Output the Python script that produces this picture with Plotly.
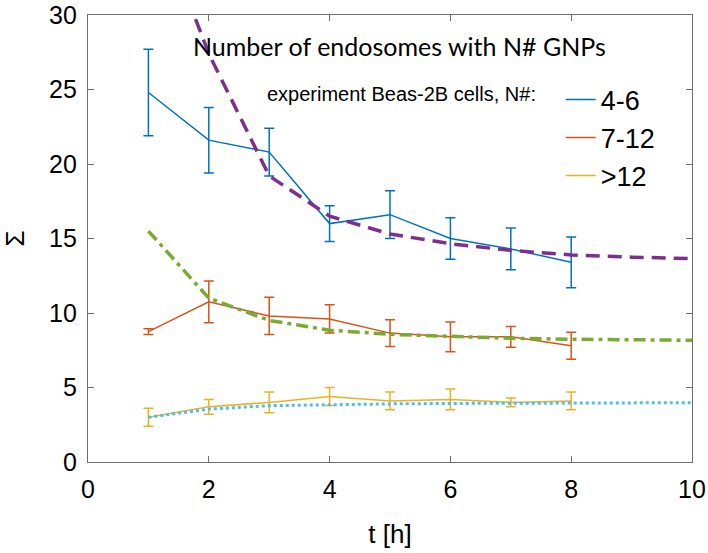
import plotly.graph_objects as go

# ---- data ----
t = [1, 2, 3, 4, 5, 6, 7, 8]
n46 = [24.8, 21.6, 20.8, 16.0, 16.6, 15.0, 14.3, 13.4]
n46_err = [2.9, 2.2, 1.6, 1.2, 1.6, 1.4, 1.4, 1.7]
n712 = [8.75, 10.75, 9.8, 9.6, 8.65, 8.4, 8.4, 7.8]
n712_err = [0.2, 1.4, 1.25, 0.95, 0.9, 1.0, 0.7, 0.9]
n12 = [3.0, 3.7, 4.0, 4.4, 4.1, 4.2, 4.0, 4.1]
n12_err = [0.6, 0.5, 0.7, 0.6, 0.6, 0.7, 0.3, 0.6]

t_model = [1, 2, 3, 4, 5, 6, 7, 8, 9, 10]
model46 = [38.0, 27.4, 19.2, 16.5, 15.3, 14.65, 14.2, 13.9, 13.75, 13.65]
model712 = [15.5, 11.0, 9.5, 8.85, 8.57, 8.42, 8.3, 8.24, 8.2, 8.17]
model12 = [3.0, 3.55, 3.78, 3.86, 3.9, 3.93, 3.95, 3.96, 3.97, 3.98]

labels = ["4-6", "7-12", ">12"]
colors = ["#0072BD", "#D95319", "#EDB120"]

fig = go.Figure()

for y, e, lab, c in zip([n46, n712, n12], [n46_err, n712_err, n12_err], labels, colors):
    fig.add_trace(go.Scatter(
        x=t, y=y, mode="lines", name=lab,
        line=dict(color=c, width=1.5),
        error_y=dict(type="data", array=e, visible=True, color=c, thickness=1.5, width=5),
    ))

fig.add_trace(go.Scatter(x=t_model, y=model46, mode="lines", showlegend=False,
                         line=dict(color="#7E2F8E", width=3.5, dash="14px,8px")))
fig.add_trace(go.Scatter(x=t_model, y=model712, mode="lines", showlegend=False,
                         line=dict(color="#77AC30", width=3.5, dash="12px,5px,4px,5px")))
fig.add_trace(go.Scatter(x=t_model, y=model12, mode="lines", showlegend=False,
                         line=dict(color="#4DBEEE", width=3, dash="dot")))

axis_common = dict(
    showline=True, linecolor="#6e6e6e", linewidth=1.2, mirror="ticks",
    ticks="inside", ticklen=6, tickcolor="#6e6e6e", tickwidth=1.2,
    showgrid=False, zeroline=False, automargin=False, ticklabeloverflow="allow",
    tickfont=dict(family="Liberation Sans, Arial", size=25, color="black"),
)

fig.update_layout(
    width=708, height=553,
    margin=dict(l=88, r=16, t=15, b=91),
    plot_bgcolor="white", paper_bgcolor="white",
    xaxis=dict(range=[0, 10], tickvals=[0, 2, 4, 6, 8, 10],
               title=dict(text="t [h]", font=dict(family="Liberation Sans, Arial", size=26, color="black"), standoff=22),
               ticklabelstandoff=5, **axis_common),
    yaxis=dict(range=[0, 30], tickvals=[0, 5, 10, 15, 20, 25, 30],
               title=dict(text="Σ", font=dict(family="Liberation Sans, Arial", size=26, color="black"), standoff=18),
               ticklabelstandoff=5, **axis_common),
    legend=dict(
        x=0.293, y=0.865, xanchor="left", yanchor="top",
        bgcolor="rgba(0,0,0,0)",
        font=dict(family="Liberation Sans, Arial", size=27, color="black"),
        title=dict(text="experiment Beas-2B cells, N#:&nbsp;&nbsp;&nbsp;", side="left",
                   font=dict(family="Liberation Sans, Arial", size=20, color="black")),
        itemwidth=30, tracegroupgap=0,
    ),
    annotations=[dict(
        text="Number of endosomes with N# GNPs", xref="paper", yref="paper",
        x=0.516, y=0.93, xanchor="center", yanchor="middle", showarrow=False,
        font=dict(family="Lato, Open Sans", size=25, color="black"),
    )],
)

fig.write_html("out.html", config={"displayModeBar": False},
               post_script="document.body.style.margin='0';document.body.style.overflow='hidden';")
